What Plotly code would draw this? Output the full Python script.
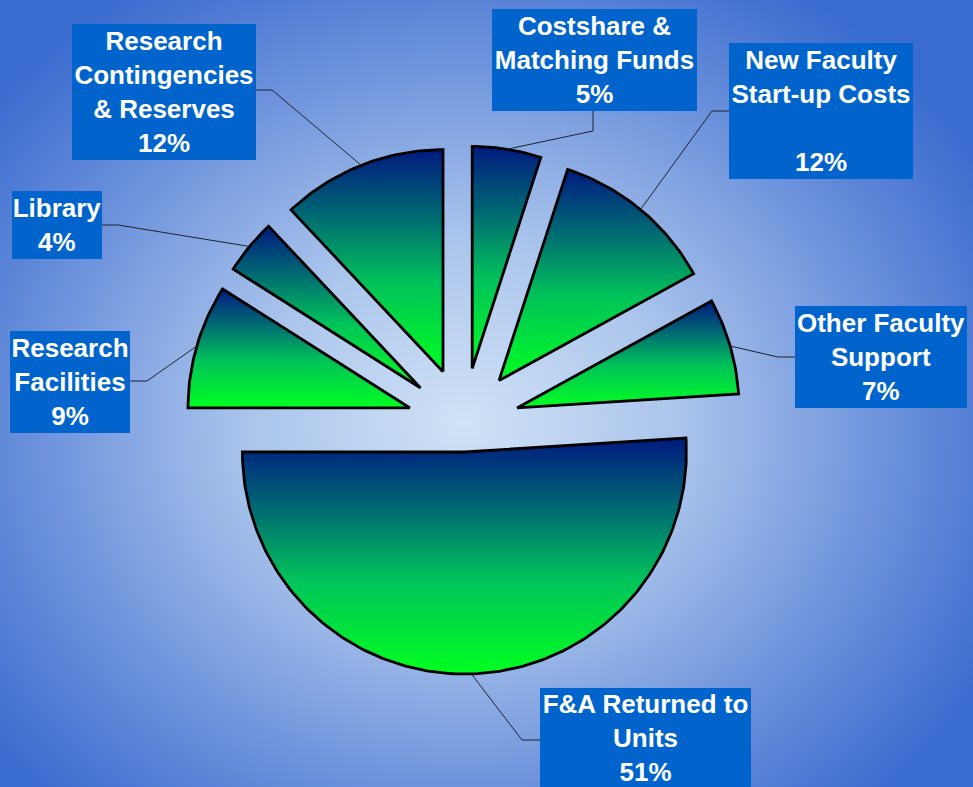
import math
import plotly.graph_objects as go

# ---- data ----
categories = ["Costshare & Matching Funds", "New Faculty Start-up Costs", "Other Faculty Support",
              "F&A Returned to Units", "Research Facilities", "Library",
              "Research Contingencies & Reserves"]
shares = [5, 12, 7, 51, 9, 4, 12]
label_names = ["Costshare &<br>Matching Funds", "New Faculty<br>Start-up Costs<br>", "Other Faculty<br>Support",
               "F&A Returned to<br>Units", "Research<br>Facilities", "Library",
               "Research<br>Contingencies<br>& Reserves"]

# ---- layout / style ----
W, H = 973, 787
CX, CY = 463.5, 423.5
R = 222
PULL = {"F&A Returned to Units": 28.5}
DEFAULT_PULL = 55.7
# label boxes (x0, y0, x1, y1), leader elbow, leader attach point on box
BOXES = {
    "Costshare & Matching Funds": ((492, 9, 697, 111), (593, 131), (593, 111)),
    "New Faculty Start-up Costs": ((729, 43, 913, 179), (712, 111), (729, 111)),
    "Other Faculty Support": ((795, 306, 967, 408), (778, 357), (795, 357)),
    "F&A Returned to Units": ((540, 688, 751, 788), (522, 740), (540, 740)),
    "Research Facilities": ((10, 331, 130, 433), (147, 381), (130, 381)),
    "Library": ((12, 191, 102, 259), (118, 225), (102, 225)),
    "Research Contingencies & Reserves": ((72, 24, 256, 160), (272, 90), (256, 90)),
}
SLICE_SCALE = [[0, "#001a80"], [0.3, "#006a72"], [0.6, "#00c25a"], [1, "#00ff20"]]
BG_SCALE = [[0, "#d0e2f6"], [0.35, "#abc5ec"], [0.7, "#6e93dc"], [1, "#3a6bcf"]]

fig = go.Figure()

# background radial gradient
BW, BH = 600, 520
fig.add_trace(go.Scatter(
    x=[CX - BW, CX + BW, CX + BW, CX - BW, CX - BW],
    y=[CY - BH, CY - BH, CY + BH, CY + BH, CY - BH],
    mode="lines", fill="toself", line=dict(width=0),
    fillgradient=dict(type="radial", colorscale=BG_SCALE),
    hoverinfo="skip", showlegend=False))

total = sum(shares)
start = 0.0
annotations = []
for cat, val, name in zip(categories, shares, label_names):
    sweep = 360.0 * val / total
    a0, a1 = start, start + sweep
    mid = math.radians((a0 + a1) / 2)
    p = PULL.get(cat, DEFAULT_PULL)
    ax_ = CX + p * math.sin(mid)
    ay_ = CY - p * math.cos(mid)
    n = max(8, int(sweep))
    xs, ys = [ax_], [ay_]
    for i in range(n + 1):
        t = math.radians(a0 + sweep * i / n)
        xs.append(ax_ + R * math.sin(t))
        ys.append(ay_ - R * math.cos(t))
    xs.append(ax_)
    ys.append(ay_)
    fig.add_trace(go.Scatter(
        x=xs, y=ys, mode="lines", fill="toself",
        line=dict(color="black", width=2.8),
        fillgradient=dict(type="vertical", colorscale=SLICE_SCALE,
                          start=min(ys), stop=max(ys)),
        hoverinfo="skip", showlegend=False))

    # leader line
    (x0, y0, x1, y1), elbow, attach = BOXES[cat]
    anc_x = ax_ + R * math.sin(mid)
    anc_y = ay_ - R * math.cos(mid)
    fig.add_trace(go.Scatter(
        x=[anc_x, elbow[0], attach[0]], y=[anc_y, elbow[1], attach[1]],
        mode="lines", line=dict(color="#1c2230", width=1),
        hoverinfo="skip", showlegend=False))

    annotations.append(dict(
        text=f"{name}<br>{val}%", x=(x0 + x1) / 2, y=(y0 + y1) / 2,
        xref="x", yref="y", xanchor="center", yanchor="middle",
        width=x1 - x0, height=y1 - y0, showarrow=False,
        bgcolor="#0064cc", borderpad=0, borderwidth=0, align="center", valign="middle",
        font=dict(family="Liberation Sans, Arial", size=26, color="white", weight="bold")))
    start = a1

fig.update_layout(
    width=W, height=H, margin=dict(l=0, r=0, t=0, b=0),
    paper_bgcolor="#4a78d2", plot_bgcolor="#4a78d2",
    xaxis=dict(range=[0, W], visible=False, fixedrange=True),
    yaxis=dict(range=[H, 0], visible=False, fixedrange=True),
    annotations=annotations, showlegend=False)

fig.write_html("out.html", config={"displayModeBar": False},
               post_script="document.body.style.margin='0';document.body.style.overflow='hidden';")
